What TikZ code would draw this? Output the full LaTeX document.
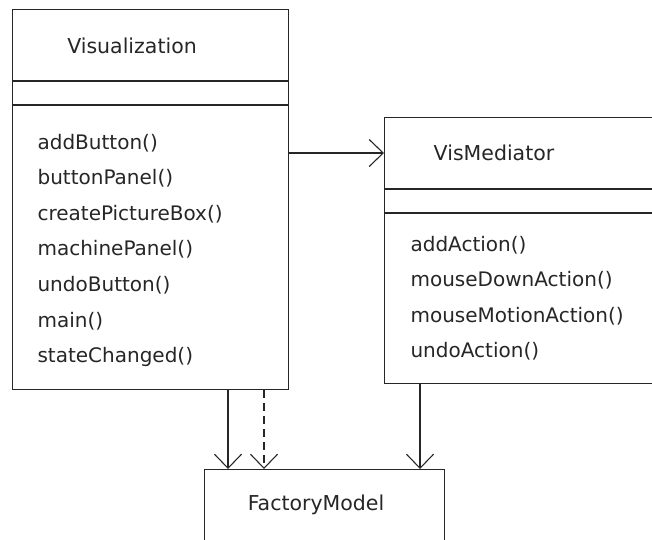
\documentclass[tikz,border=0pt]{standalone}
\usepackage{fontspec}
\setmainfont{DejaVu Sans}
\usetikzlibrary{arrows.meta}
\begin{document}
\begin{tikzpicture}[x=1pt,y=-1pt,
  line width=1.1pt, draw=black!85,
  umlbox/.style={draw=black!85, rectangle, inner sep=0pt, anchor=north west},
  title/.style={font=\fontsize{20.5}{24}\selectfont, text=black!85, inner sep=0pt, anchor=center},
  meth/.style={font=\fontsize{20}{24}\selectfont, text=black!85, inner sep=0pt, anchor=base west},
  assoc/.style={draw=black!85, -{Straight Barb[length=14pt,width=27pt]}},
  dep/.style={assoc, dash pattern=on 8pt off 5pt}]
\clip (0,0) rectangle (652,539);
\useasboundingbox (0,0) rectangle (652,539);
% Visualization
\node[umlbox, minimum width=276pt, minimum height=380pt] (vis) at (12,9) {};
\draw (12,81) -- (288,81);
\draw (12,105) -- (288,105);
\node[title] (vistitle) at (132,46) {Visualization};
\foreach \n/\t [count=\i from 0] in {m1/addButton(), m2/buttonPanel(), m3/createPictureBox(), m4/machinePanel(), m5/undoButton(), m6/main(), m7/stateChanged()}
  \node[meth] (vis\n) at (37,{149+35.6*\i}) {\t};
% VisMediator
\node[umlbox, minimum width=320pt, minimum height=266pt] (med) at (384,117) {};
\draw (384,189) -- (704,189);
\draw (384,213) -- (704,213);
\node[title] (medtitle) at (494,153) {VisMediator};
\foreach \n/\t [count=\i from 0] in {a1/addAction(), a2/mouseDownAction(), a3/mouseMotionAction(), a4/undoAction()}
  \node[meth] (med\n) at (410,{251+35.6*\i}) {\t};
% FactoryModel
\node[umlbox, minimum width=240pt, minimum height=120pt] (fm) at (204,469) {};
\node[title] (fmtitle) at (316,505) {FactoryModel};
% connectors
\coordinate (vm) at (288,153);
\draw[assoc] (vm) -- (vm -| med.west);
\draw[assoc] (vis.south -| 228,0) -- (fm.north -| 228,0);
\draw[dep] (vis.south -| 264,0) -- (fm.north -| 264,0);
\draw[assoc] (med.south -| 420,0) -- (fm.north -| 420,0);
\end{tikzpicture}
\end{document}
